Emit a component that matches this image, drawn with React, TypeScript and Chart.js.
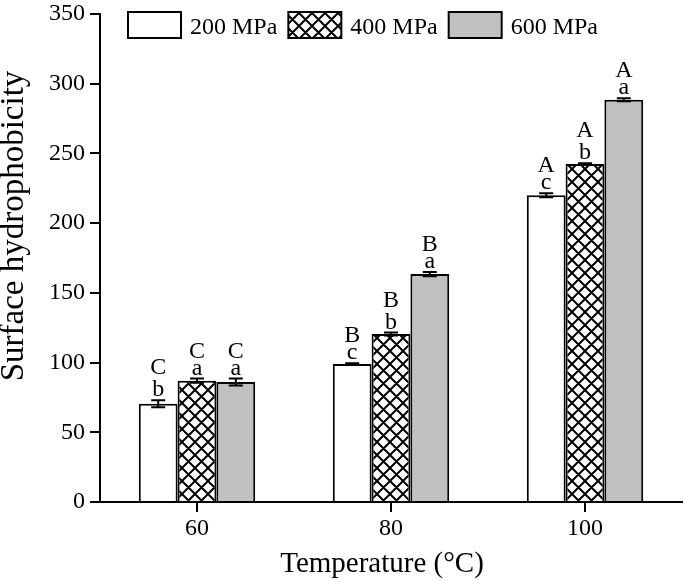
import React, { useEffect, useRef } from 'react';
import { Chart, registerables } from 'chart.js';

Chart.register(...registerables);

const categories = ['60', '80', '100'];
const seriesLabels = ['200 MPa', '400 MPa', '600 MPa'];
const values200 = [70.5, 99, 220];
const values400 = [87, 120.5, 242.5];
const values600 = [86, 163.5, 288.5];
const err200 = [2.5, 0.5, 1.5];
const err400 = [1.5, 1, 0.5];
const err600 = [2.5, 1.5, 1];
const upper200 = ['C', 'B', 'A'];
const lower200 = ['b', 'c', 'c'];
const upper400 = ['C', 'B', 'A'];
const lower400 = ['a', 'b', 'b'];
const upper600 = ['C', 'B', 'A'];
const lower600 = ['a', 'a', 'a'];
const yTicksMin = 0;
const yTicksMax = 350;
const yTickStep = 50;
const xTitle = 'Temperature (°C)';
const yTitle = 'Surface hydrophobicity';

const SERIF = '"Liberation Serif", "Times New Roman", serif';

function makeCrossHatch(): CanvasPattern | string {
  const size = 13;
  const c = document.createElement('canvas');
  c.width = size;
  c.height = size;
  const ctx = c.getContext('2d');
  if (!ctx) return '#fff';
  ctx.fillStyle = '#ffffff';
  ctx.fillRect(0, 0, size, size);
  ctx.strokeStyle = '#000000';
  ctx.lineWidth = 2;
  ctx.beginPath();
  for (const k of [-size, 0, size]) {
    ctx.moveTo(-2 + k, -2);
    ctx.lineTo(size + 2 + k, size + 2);
    ctx.moveTo(size + 2 + k, -2);
    ctx.lineTo(-2 + k, size + 2);
  }
  ctx.stroke();
  const p = ctx.createPattern(c, 'repeat');
  return p || '#fff';
}

export default function App() {
  const ref = useRef<HTMLCanvasElement | null>(null);

  useEffect(() => {
    const canvas = ref.current;
    if (!canvas) return;
    const hatch = makeCrossHatch();
    const fills: any[] = ['#ffffff', hatch, '#c0c0c0'];
    const errs = [err200, err400, err600];
    const uppers = [upper200, upper400, upper600];
    const lowers = [lower200, lower400, lower600];

    const annot = {
      id: 'annot',
      afterDatasetsDraw(chart: any) {
        const ctx = chart.ctx;
        const ys = chart.scales.y;
        ctx.save();
        chart.data.datasets.forEach((ds: any, i: number) => {
          const meta = chart.getDatasetMeta(i);
          meta.data.forEach((el: any, j: number) => {
            const v = ds.data[j];
            const e = errs[i][j];
            const x = el.x;
            const yTop = ys.getPixelForValue(v + e);
            const yBot = ys.getPixelForValue(v - e);
            ctx.strokeStyle = '#000';
            ctx.lineWidth = 2;
            ctx.beginPath();
            ctx.moveTo(x, yTop);
            ctx.lineTo(x, yBot);
            ctx.moveTo(x - 7, yTop);
            ctx.lineTo(x + 7, yTop);
            ctx.moveTo(x - 7, yBot);
            ctx.lineTo(x + 7, yBot);
            ctx.stroke();
            ctx.fillStyle = '#000';
            ctx.font = `24px ${SERIF}`;
            ctx.textAlign = 'center';
            ctx.textBaseline = 'alphabetic';
            const lowBase = yTop - 4;
            const lw = lowers[i][j];
            ctx.fillText(lw, x, lowBase);
            const asc = ctx.measureText(lw).actualBoundingBoxAscent || 11;
            ctx.fillText(uppers[i][j], x, lowBase - asc - 6);
          });
        });
        ctx.restore();
      },
      afterDraw(chart: any) {
        const ctx = chart.ctx;
        ctx.save();
        // legend
        ctx.font = `24px ${SERIF}`;
        ctx.textBaseline = 'alphabetic';
        ctx.textAlign = 'left';
        let x = 128;
        const boxY = 12;
        const boxW = 53;
        const boxH = 26;
        chart.data.datasets.forEach((ds: any, i: number) => {
          ctx.fillStyle = fills[i];
          ctx.fillRect(x, boxY, boxW, boxH);
          ctx.strokeStyle = '#000';
          ctx.lineWidth = 2;
          ctx.strokeRect(x, boxY, boxW, boxH);
          const tx = x + boxW + 9;
          ctx.fillStyle = '#000';
          ctx.fillText(ds.label, tx, 34);
          x = tx + ctx.measureText(ds.label).width + 11;
        });
        // axis titles
        ctx.fillStyle = '#000';
        ctx.font = `29px ${SERIF}`;
        ctx.textAlign = 'center';
        ctx.fillText(xTitle, 382, 572);
        ctx.save();
        ctx.translate(23, 226);
        ctx.rotate(-Math.PI / 2);
        ctx.font = `33px ${SERIF}`;
        ctx.fillText(yTitle, 0, 0);
        ctx.restore();
        ctx.restore();
      },
    };

    const chart = new Chart(canvas, {
      type: 'bar',
      data: {
        labels: categories,
        datasets: [
          { label: seriesLabels[0], data: values200, backgroundColor: fills[0], borderColor: '#000', borderWidth: 2 },
          { label: seriesLabels[1], data: values400, backgroundColor: fills[1], borderColor: '#000', borderWidth: 2 },
          { label: seriesLabels[2], data: values600, backgroundColor: fills[2], borderColor: '#000', borderWidth: 2 },
        ],
      },
      options: {
        responsive: false,
        animation: false,
        devicePixelRatio: 1,
        layout: { padding: { top: 14, right: 3, left: 0, bottom: 0 } },
        datasets: { bar: { categoryPercentage: 0.6, barPercentage: 1 } } as any,
        plugins: { legend: { display: false }, tooltip: { enabled: false } },
        scales: {
          x: {
            grid: { display: true, drawOnChartArea: false, offset: false, tickLength: 10, color: '#000', lineWidth: 2 },
            border: { color: '#000', width: 2 },
            ticks: { font: { family: SERIF, size: 24 }, color: '#000', padding: 2, maxRotation: 0 },
            afterFit: (s: any) => { s.height = 79; s.paddingLeft = 0; s.paddingRight = 0; },
          } as any,
          y: {
            min: yTicksMin,
            max: yTicksMax,
            ticks: { stepSize: yTickStep, font: { family: SERIF, size: 24 }, color: '#000', padding: 5 },
            grid: { drawOnChartArea: false, tickLength: 10, color: '#000', lineWidth: 2 },
            border: { color: '#000', width: 2 },
            afterFit: (s: any) => { s.width = 100; s.paddingTop = 0; s.paddingBottom = 0; },
          } as any,
        },
      },
      plugins: [annot],
    });
    return () => chart.destroy();
  }, []);

  return (
    <div style={{ position: 'fixed', left: 0, top: 0, width: 685, height: 581, background: '#fff' }}>
      <canvas ref={ref} width={685} height={581} style={{ display: 'block' }} />
    </div>
  );
}
